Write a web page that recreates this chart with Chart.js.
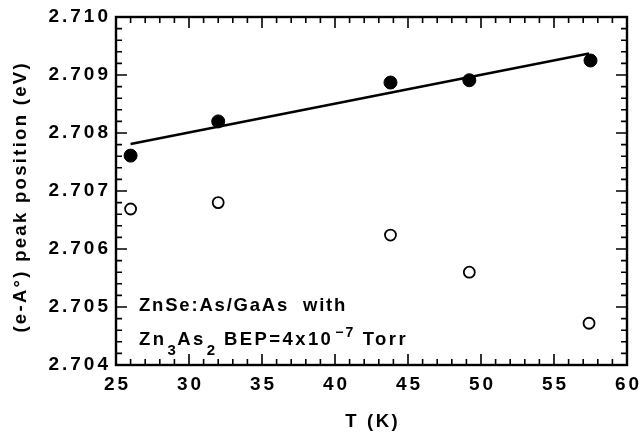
<!DOCTYPE html>
<html>
<head>
<meta charset="utf-8">
<script src="https://cdn.jsdelivr.net/npm/chart.js@4/dist/chart.umd.min.js"></script>
<style>
  body { margin: 0; background: #fff; }
  canvas { display: block; }
</style>
</head>
<body>
<canvas id="peakChart" width="640" height="432"></canvas>
<script>
// temperatures (K) and (e-A0) peak positions (eV)
const tempsFilled = [26.0, 32.0, 43.8, 49.2, 57.5];
const peakFilled = [2.70761, 2.70820, 2.70887, 2.70891, 2.70925];
const tempsOpen = [26.0, 32.0, 43.8, 49.2, 57.4];
const peakOpen = [2.70669, 2.70680, 2.70624, 2.70560, 2.70472];
// linear fit through the filled points
const fitTemps = [26.0, 57.4];
const fitPeak = [2.70781, 2.70937];

const xTickLabels = ["25", "30", "35", "40", "45", "50", "55", "60"];
const yTickLabels = ["2.704", "2.705", "2.706", "2.707", "2.708", "2.709", "2.710"];
const xTitle = "T (K)";
const yTitle = "(e-A°) peak position (eV)";
const noteLine1 = "ZnSe:As/GaAs  with";
// [text, 0 normal / 1 subscript / 2 superscript]
const noteLine2 = [["Zn", 0], ["3", 1], ["As", 0], ["2", 1], [" BEP=4x10", 0], ["−7", 2], [" Torr", 0]];

const FONT = '"Liberation Sans", Arial, sans-serif';

const toXY = (xs, ys) => xs.map((x, i) => ({ x: x, y: ys[i] }));

// draws text with letter spacing, trimming the trailing gap
function spaced(ctx, text, x, y, align, gap) {
  ctx.letterSpacing = gap + "px";
  const w = ctx.measureText(text).width - gap;
  let left = x;
  if (align === "center") left = x - w / 2;
  if (align === "right") left = x - w;
  ctx.textAlign = "left";
  ctx.fillText(text, left, y);
  return left + w + gap;
}

const framePlugin = {
  id: "frame",
  afterDraw(chart) {
    const { ctx, chartArea: a, scales: { x, y } } = chart;
    ctx.save();
    ctx.strokeStyle = "#000";
    ctx.fillStyle = "#000";

    // inward ticks on all four sides
    ctx.lineWidth = 1.6;
    ctx.beginPath();
    for (let k = 0; k <= 35; k++) {
      const px = x.getPixelForValue(25 + k);
      const len = k % 5 === 0 ? 11 : 6;
      ctx.moveTo(px, a.bottom); ctx.lineTo(px, a.bottom - len);
      ctx.moveTo(px, a.top); ctx.lineTo(px, a.top + len);
    }
    for (let k = 0; k <= 30; k++) {
      const py = y.getPixelForValue(2.704 + k * 0.0002);
      const len = k % 5 === 0 ? 11 : 6;
      ctx.moveTo(a.left, py); ctx.lineTo(a.left + len, py);
      ctx.moveTo(a.right, py); ctx.lineTo(a.right - len, py);
    }
    ctx.stroke();

    ctx.lineWidth = 2.4;
    ctx.strokeRect(a.left, a.top, a.right - a.left, a.bottom - a.top);

    // tick labels
    ctx.font = "bold 19px " + FONT;
    ctx.textBaseline = "middle";
    xTickLabels.forEach(t => {
      spaced(ctx, t, x.getPixelForValue(parseFloat(t)), a.bottom + 20, "center", 3);
    });
    yTickLabels.forEach(t => {
      spaced(ctx, t, a.left - 8, y.getPixelForValue(parseFloat(t)), "right", 3);
    });

    // axis titles
    ctx.font = "bold 18.5px " + FONT;
    spaced(ctx, xTitle, (a.left + a.right) / 2, 422, "center", 2.6);
    ctx.save();
    ctx.translate(21, 198);
    ctx.rotate(-Math.PI / 2);
    spaced(ctx, yTitle, 0, 0, "center", 2.3);
    ctx.restore();

    // annotation
    ctx.textBaseline = "alphabetic";
    ctx.font = "bold 18.5px " + FONT;
    spaced(ctx, noteLine1, 139, 311, "left", 1.8);
    let cx = 139;
    noteLine2.forEach(([t, kind]) => {
      if (kind === 0) {
        ctx.font = "bold 18.5px " + FONT;
        cx = spaced(ctx, t, cx, 345, "left", 2.4);
      } else if (kind === 1) {
        ctx.font = "bold 15px " + FONT;
        cx = spaced(ctx, t, cx + 1, 355, "left", 1.5);
      } else {
        ctx.font = "bold 14px " + FONT;
        cx = spaced(ctx, t, cx + 2, 337, "left", 2);
      }
    });
    ctx.restore();
  }
};

new Chart(document.getElementById("peakChart"), {
  type: "scatter",
  data: {
    datasets: [
      {
        data: toXY(tempsFilled, peakFilled),
        pointRadius: 6.5,
        pointBackgroundColor: "#000",
        pointBorderColor: "#000",
        pointBorderWidth: 1,
      },
      {
        data: toXY(tempsOpen, peakOpen),
        pointRadius: 5.5,
        pointBackgroundColor: "#fff",
        pointBorderColor: "#000",
        pointBorderWidth: 1.8,
      },
      {
        data: toXY(fitTemps, fitPeak),
        showLine: true,
        pointRadius: 0,
        borderColor: "#000",
        borderWidth: 2.4,
      },
    ],
  },
  options: {
    responsive: false,
    animation: false,
    layout: { padding: { top: 17, right: 13, left: 0, bottom: 0 } },
    plugins: {
      legend: { display: false },
      tooltip: { enabled: false },
    },
    scales: {
      x: {
        type: "linear",
        min: 25,
        max: 60,
        grid: { display: false },
        border: { display: false },
        ticks: { display: false },
        afterFit(s) { s.height = 67; },
      },
      y: {
        type: "linear",
        min: 2.704,
        max: 2.710,
        grid: { display: false },
        border: { display: false },
        ticks: { display: false },
        afterFit(s) { s.width = 116; },
      },
    },
  },
  plugins: [framePlugin],
});
</script>
</body>
</html>
